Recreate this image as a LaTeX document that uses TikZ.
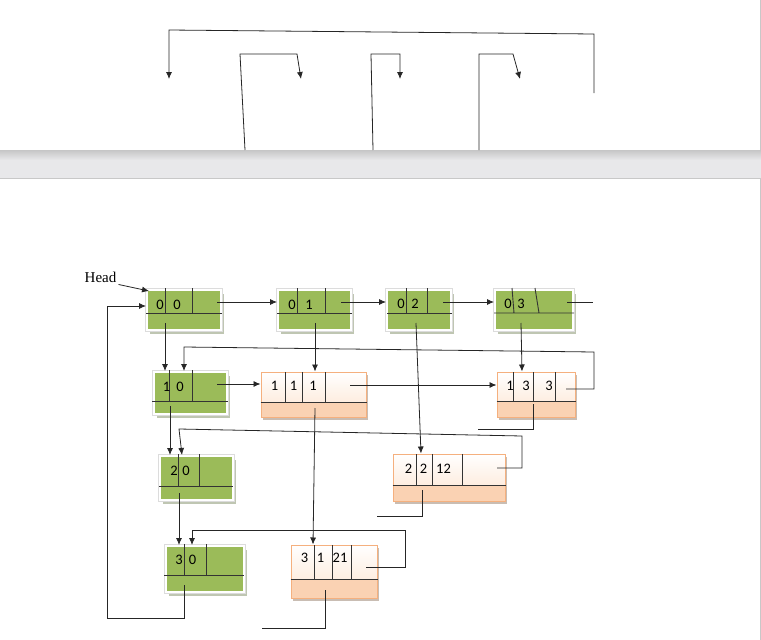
\documentclass[tikz,border=0pt]{standalone}
\usepackage{fontspec}
\setmainfont{Carlito}
\newfontfamily\headfont{Liberation Serif}
\usepackage{tikz}
\usetikzlibrary{arrows.meta,calc}

\definecolor{grn}{HTML}{9BBB59}
\definecolor{framegray}{HTML}{DCDCDC}
\definecolor{gshadow}{HTML}{BFC6B2}
\definecolor{oshadow}{HTML}{C9BDB3}
\definecolor{orgline}{HTML}{F5B07E}
\definecolor{orgmid}{HTML}{FDE4D0}
\definecolor{orglow}{HTML}{FAD2B3}
\definecolor{bandtop}{HTML}{C6C6C6}
\definecolor{bandbot}{HTML}{E8E8EA}
\definecolor{edgegray}{HTML}{C8C8C8}

\tikzset{
  grec/.style={fill=grn, draw=white, line width=2pt, inner sep=0pt,
    preaction={fill=gshadow, transform canvas={xshift=3pt,yshift=-4pt}},
    preaction={draw=framegray, line width=4pt}},
  orec/.style={draw=orgline, line width=1pt, fill=orglow, inner sep=0pt,
    preaction={fill=oshadow, transform canvas={xshift=2pt,yshift=-2.5pt}},
    path picture={\fill[top color=white, bottom color=orgmid]
      (path picture bounding box.north west) rectangle
      ($(path picture bounding box.south east)!0.34!(path picture bounding box.north east)$);}},
  val/.style={inner sep=0pt, font=\fontsize{14.5}{16}\selectfont},
  headlbl/.style={inner sep=2pt, font=\headfont\fontsize{15}{17}\selectfont},
  link/.style={draw=black!85, line width=0.8pt},
  div/.style={draw=black!80, line width=0.9pt},
}

\begin{document}
\begin{tikzpicture}[x=1pt,y=-1pt,>={Latex[length=7pt,width=6pt]}]
  \useasboundingbox (0,0) rectangle (761,640);

  % page break band
  \fill[top color=bandtop, bottom color=bandbot] (0,150) rectangle (761,160);
  \fill[bandbot] (0,160) rectangle (761,178);
  \draw[edgegray, line width=1pt] (0,178) -- (761,178);
  \draw[edgegray, line width=1pt] (760.5,0) -- (760.5,150) (760.5,178) -- (760.5,640);

  % links from the previous page
  \coordinate (pa) at (594,93);  \coordinate (pb) at (169,79);
  \coordinate (qa) at (245,150); \coordinate (qb) at (301,79);
  \coordinate (ra) at (373,150); \coordinate (rb) at (400,79);
  \coordinate (sa) at (479,150); \coordinate (sb) at (520,79);
  \draw[link,->] (pa) -- (594,34) -- (169,30) -- (pb);
  \draw[link,->] (qa) -- (240,54) -- (297,54) -- (qb);
  \draw[link,->] (ra) -- (371,54) -- (400,54) -- (rb);
  \draw[link,->] (sa) -- (479,54) -- (513,54) -- (sb);

  % header nodes
  \node[grec, minimum width=74pt, minimum height=40pt] (n00) at (184,310) {};
  \draw[div] (165,288) -- (165,313) (192,288) -- (192,313) (146,313) -- (222,313);
  \node[val] (n00a) at (160,304.5) {0}; \node[val] (n00b) at (177,304.5) {0};

  \node[grec, minimum width=73pt, minimum height=40pt] (n01) at (314.5,310) {};
  \draw[div] (297,288) -- (297,313) (325,288) -- (325,313) (277,313) -- (352,313);
  \node[val] (n01a) at (292,304.5) {0}; \node[val] (n01b) at (309,304.5) {1};

  \node[grec, minimum width=64pt, minimum height=40pt] (n02) at (419,310) {};
  \draw[div] (406,288) -- (406,313) (427,288) -- (427,313) (387,313) -- (452,313);
  \node[val] (n02a) at (401,304) {0}; \node[val] (n02b) at (415,304) {2};

  \node[grec, minimum width=78pt, minimum height=40pt] (n03) at (534,310) {};
  \draw[div] (512,288) -- (514,313) (535,288) -- (539,313) (494,313) -- (574,313);
  \node[val] (n03a) at (508,304) {0}; \node[val] (n03b) at (521,304) {3};

  \node[grec, minimum width=73pt, minimum height=42pt] (n10) at (190.5,393) {};
  \draw[div] (169,370) -- (169,401) (192,370) -- (192,401) (152,401) -- (228,401);
  \node[val] (n10a) at (166.5,387) {1}; \node[val] (n10b) at (180,387) {0};

  \node[grec, minimum width=73pt, minimum height=44pt] (n20) at (196.5,478) {};
  \draw[div] (178,454) -- (178,486) (199,454) -- (199,486) (159,486) -- (233,486);
  \node[val] (n20a) at (174,470.5) {2}; \node[val] (n20b) at (186,470.5) {0};

  \node[grec, minimum width=78pt, minimum height=46pt] (n30) at (205,569) {};
  \draw[div] (184,544) -- (184,575) (206,544) -- (206,575) (164,575) -- (244,575);
  \node[val] (n30a) at (179,560) {3}; \node[val] (n30b) at (192.5,560) {0};

  % element nodes
  \node[orec, minimum width=105pt, minimum height=45pt] (n111) at (313.5,394.5) {};
  \draw[div] (285,372) -- (285,402) (302,372) -- (302,402) (325,372) -- (325,402)
    (n111.west |- 0,402) -- (n111.east |- 0,402);
  \node[val] (n111a) at (274.5,385.5) {1}; \node[val] (n111b) at (293.5,385.5) {1};
  \node[val] (n111c) at (313,385.5) {1};

  \node[orec, minimum width=78pt, minimum height=45pt] (n133) at (536,394.5) {};
  \draw[div] (513,372) -- (513,401) (533,372) -- (533,401) (555,372) -- (555,401)
    (n133.west |- 0,401) -- (n133.east |- 0,401);
  \node[val] (n133a) at (510,386) {1}; \node[val] (n133b) at (526,386) {3};
  \node[val] (n133c) at (549,386) {3};

  \node[orec, minimum width=112pt, minimum height=47pt] (n2212) at (449,477.5) {};
  \draw[div] (416,454) -- (416,485) (432,454) -- (432,485) (462,454) -- (462,485)
    (n2212.west |- 0,485) -- (n2212.east |- 0,485);
  \node[val] (n2212a) at (408.5,469) {2}; \node[val] (n2212b) at (423.5,469) {2};
  \node[val] (n2212c) at (443.5,469) {12};

  \node[orec, minimum width=86pt, minimum height=53pt] (n3121) at (334,571.5) {};
  \draw[div] (314,545) -- (314,579) (332,545) -- (332,579) (351,545) -- (351,579)
    (n3121.west |- 0,579) -- (n3121.east |- 0,579);
  \node[val] (n3121a) at (304.5,558) {3}; \node[val] (n3121b) at (320.5,558) {1};
  \node[val] (n3121c) at (340,558) {21};

  \node[headlbl] (head) at (100.5,277) {Head};

  % pointer ends
  \coordinate (n00r) at (217,302);   \coordinate (n00d) at (165,323);
  \coordinate (n01r) at (341,302);   \coordinate (n01d) at (315,323);
  \coordinate (n02r) at (443,302);   \coordinate (n02d) at (416,323);
  \coordinate (n03r) at (567,302);   \coordinate (n03d) at (521,323);
  \coordinate (n03e) at (593,302);
  \coordinate (n10r) at (217,384);   \coordinate (n10d) at (170,406);
  \coordinate (n111r) at (350,385);  \coordinate (n111d) at (315,408);
  \coordinate (n133r) at (566,389);  \coordinate (n133d) at (533,404);
  \coordinate (n133e) at (478,429);
  \coordinate (n20d) at (179,493);
  \coordinate (n2212r) at (497,468); \coordinate (n2212d) at (422,490);
  \coordinate (n2212e) at (377,516);
  \coordinate (n30d) at (184,585);
  \coordinate (n3121r) at (366,567); \coordinate (n3121d) at (325,590);
  \coordinate (n3121e) at (262,628);

  \draw[link,->] (head.south east) -- ([xshift=3pt,yshift=-2pt]n00.north west);
  \draw[link,->] (n00r) -- (n00r -| n01.west);
  \draw[link,->] (n01r) -- (n01r -| n02.west);
  \draw[link,->] (n02r) -- (n02r -| n03.west);
  \draw[link] (n03r) -- (n03e);
  \draw[link,->] (n00d) -- (n00d |- n10.north);
  \draw[link,->] (n01d) -- (n01d |- n111.north);
  \draw[link,->] (n02d) -- (421,0 |- n2212.north);
  \draw[link,->] (n03d) -- (522,0 |- n133.north);
  \draw[link,->] (n10r) -- (n10r -| n111.west);
  \draw[link,->] (n111r) -- (n111r -| n133.west);
  \draw[link,->] (n133r) -- (594,389) -- (594,352) -- (184,347) -- (184,0 |- n10.north);
  \draw[link] (n133d) -- (n133d |- n133e) -- (n133e);
  \draw[link,->] (n10d) -- (n10d |- n20.north);
  \draw[link,->] (n111d) -- (313,0 |- n3121.north);
  \draw[link,->] (n2212r) -- (522,468) -- (522,436) -- (179,429) -- (182,0 |- n20.north);
  \draw[link] (n2212d) -- (n2212d |- n2212e) -- (n2212e);
  \draw[link,->] (n20d) -- (n20d |- n30.north);
  \draw[link,->] (n3121r) -- (405,567) -- (405,530) -- (192,530) -- (192,0 |- n30.north);
  \draw[link] (n3121d) -- (n3121d |- n3121e) -- (n3121e);
  \draw[link,->] (n30d) -- (184,618) -- (107,618) -- (107,306) -- (107,306 -| n00.west);
\end{tikzpicture}
\end{document}
